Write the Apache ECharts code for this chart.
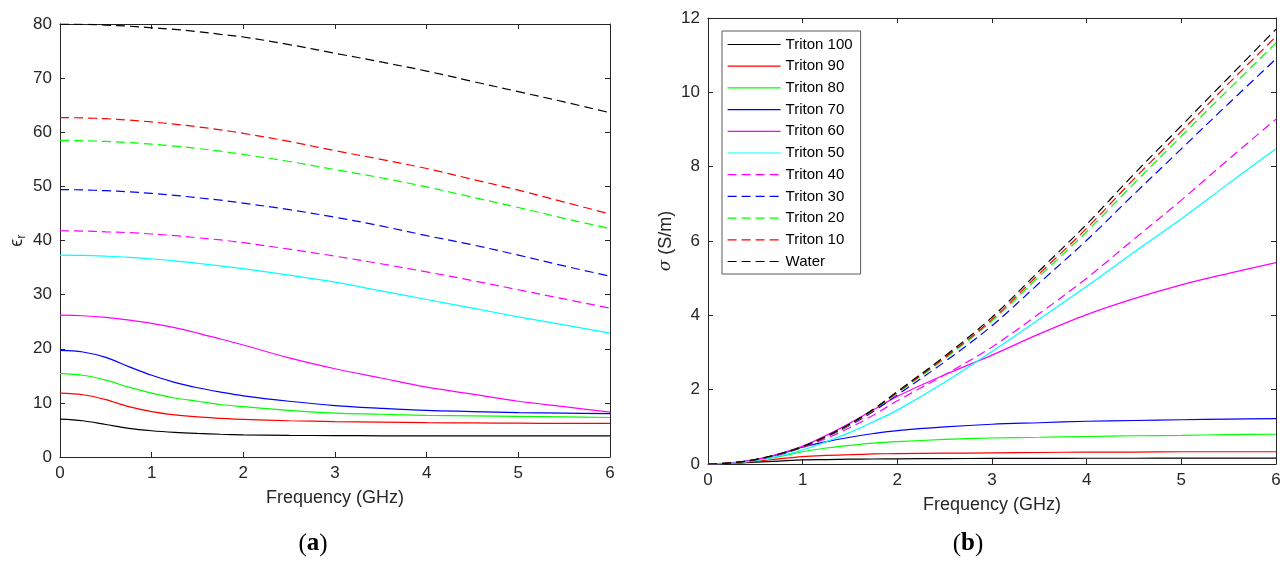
<!DOCTYPE html>
<html>
<head>
<meta charset="utf-8">
<script src="https://cdn.jsdelivr.net/npm/echarts@6/dist/echarts.min.js"></script>
<style>
html,body{margin:0;padding:0;background:#fff;}
#chart{width:1288px;height:565px;}
</style>
</head>
<body>
<div id="chart"></div>
<script>
// ---------- data ----------
const freq = [0, 0.25, 0.5, 0.75, 1, 1.25, 1.5, 1.75, 2, 2.5, 3, 3.5, 4, 4.5, 5, 5.5, 6];
const seriesNames = ['Triton 100','Triton 90','Triton 80','Triton 70','Triton 60','Triton 50','Triton 40','Triton 30','Triton 20','Triton 10','Water'];

// (a) relative permittivity
const eps_T100 = [7.0, 6.7, 6.0, 5.3, 4.85, 4.55, 4.35, 4.2, 4.1, 4.0, 3.95, 3.92, 3.9, 3.9, 3.9, 3.9, 3.9];
const eps_T90  = [11.8, 11.5, 10.6, 9.3, 8.4, 7.8, 7.4, 7.15, 6.95, 6.7, 6.55, 6.45, 6.35, 6.3, 6.25, 6.2, 6.2];
const eps_T80  = [15.4, 15.1, 14.2, 12.9, 11.8, 10.9, 10.3, 9.7, 9.3, 8.6, 8.1, 7.9, 7.7, 7.6, 7.5, 7.4, 7.3];
const eps_T70  = [19.7, 19.4, 18.4, 16.7, 15.1, 13.8, 12.8, 12.0, 11.3, 10.3, 9.5, 9.0, 8.6, 8.4, 8.2, 8.1, 8.0];
const eps_T60  = [26.2, 26.1, 25.8, 25.3, 24.7, 23.9, 22.9, 21.8, 20.7, 18.3, 16.3, 14.6, 12.9, 11.6, 10.3, 9.3, 8.3];
const eps_T50  = [37.3, 37.25, 37.1, 36.9, 36.6, 36.25, 35.8, 35.3, 34.8, 33.6, 32.3, 30.7, 29.1, 27.5, 25.9, 24.4, 22.9];
const eps_T40  = [41.8, 41.75, 41.6, 41.45, 41.2, 40.9, 40.5, 40.1, 39.6, 38.4, 37.1, 35.7, 34.2, 32.6, 30.9, 29.2, 27.5];
const eps_T30  = [49.4, 49.35, 49.2, 49.0, 48.7, 48.35, 47.9, 47.45, 46.9, 45.7, 44.3, 42.7, 40.9, 39.2, 37.3, 35.3, 33.4];
const eps_T20  = [58.5, 58.45, 58.3, 58.1, 57.8, 57.45, 57.0, 56.5, 55.9, 54.6, 53.1, 51.6, 49.9, 48.0, 46.1, 44.1, 42.2];
const eps_T10  = [62.7, 62.65, 62.5, 62.25, 61.9, 61.5, 61.0, 60.45, 59.8, 58.3, 56.6, 55.0, 53.3, 51.3, 49.3, 47.1, 44.9];
const eps_Water= [80.0, 79.95, 79.8, 79.6, 79.3, 79.0, 78.6, 78.1, 77.6, 76.2, 74.6, 73.0, 71.3, 69.4, 67.5, 65.6, 63.6];

// (b) conductivity (S/m)
const sig_T100 = [0, 0.015, 0.05, 0.08, 0.11, 0.12, 0.13, 0.135, 0.14, 0.145, 0.15, 0.15, 0.155, 0.155, 0.16, 0.16, 0.16];
const sig_T90  = [0, 0.02, 0.07, 0.14, 0.20, 0.23, 0.25, 0.27, 0.28, 0.29, 0.30, 0.31, 0.32, 0.32, 0.33, 0.33, 0.33];
const sig_T80  = [0, 0.03, 0.10, 0.20, 0.33, 0.43, 0.50, 0.56, 0.60, 0.66, 0.70, 0.72, 0.74, 0.76, 0.77, 0.79, 0.80];
const sig_T70  = [0, 0.03, 0.12, 0.26, 0.45, 0.60, 0.72, 0.82, 0.90, 1.00, 1.07, 1.11, 1.15, 1.17, 1.19, 1.21, 1.22];
const sig_T60  = [0, 0.03, 0.12, 0.27, 0.48, 0.77, 1.10, 1.46, 1.82, 2.40, 2.93, 3.50, 4.02, 4.45, 4.82, 5.13, 5.42];
const sig_T50  = [0, 0.02, 0.09, 0.21, 0.38, 0.60, 0.85, 1.14, 1.45, 2.20, 3.03, 3.90, 4.78, 5.70, 6.60, 7.55, 8.48];
const sig_T40  = [0, 0.03, 0.11, 0.25, 0.44, 0.69, 0.98, 1.32, 1.70, 2.40, 3.15, 4.05, 5.00, 6.05, 7.10, 8.20, 9.28];
const sig_T30  = [0, 0.03, 0.12, 0.26, 0.46, 0.73, 1.04, 1.42, 1.86, 2.75, 3.72, 4.87, 6.02, 7.26, 8.48, 9.70, 10.9];
const sig_T20  = [0, 0.03, 0.12, 0.27, 0.47, 0.74, 1.06, 1.46, 1.91, 2.83, 3.85, 5.05, 6.25, 7.55, 8.82, 10.08, 11.33];
const sig_T10  = [0, 0.03, 0.12, 0.27, 0.47, 0.74, 1.07, 1.47, 1.93, 2.86, 3.89, 5.12, 6.34, 7.67, 8.95, 10.24, 11.5];
const sig_Water= [0, 0.03, 0.12, 0.27, 0.47, 0.75, 1.08, 1.48, 1.95, 2.90, 3.95, 5.20, 6.45, 7.80, 9.10, 10.40, 11.7];

const epsData = [eps_T100, eps_T90, eps_T80, eps_T70, eps_T60, eps_T50, eps_T40, eps_T30, eps_T20, eps_T10, eps_Water];
const sigData = [sig_T100, sig_T90, sig_T80, sig_T70, sig_T60, sig_T50, sig_T40, sig_T30, sig_T20, sig_T10, sig_Water];

// ---------- styles ----------
const colors = ['#000000','#ff0000','#00ff00','#0000ff','#ff00ff','#00ffff','#ff00ff','#0000ff','#00ff00','#ff0000','#000000'];
const dashed = [false,false,false,false,false,false,true,true,true,true,true];
const FONT = "'Liberation Sans', Arial, Helvetica, sans-serif";
const SERIF = "'Liberation Serif', 'DejaVu Serif', serif";
const AX = '#262626';

function pairs(vals){ return freq.map((f,i)=>[f, vals[i]]); }

function mkX(grid, pos, showLabel, name){
  return {
    type:'value', gridIndex:grid, position:pos, min:0, max:6, interval:1,
    axisLine:{show:true, onZero:false, lineStyle:{color:AX, width:1}},
    axisTick:{show:true, inside:true, length:5, lineStyle:{color:AX, width:1}},
    axisLabel:{show:showLabel, fontFamily:FONT, fontSize:17, color:AX, margin:8},
    splitLine:{show:false},
    name: name || '', nameLocation:'middle', nameGap:32,
    nameTextStyle:{fontFamily:FONT, fontSize:18, color:AX}
  };
}
function mkY(grid, pos, showLabel, max, interval){
  return {
    type:'value', gridIndex:grid, position:pos, min:0, max:max, interval:interval,
    axisLine:{show:true, onZero:false, lineStyle:{color:AX, width:1}},
    axisTick:{show:true, inside:true, length:5, lineStyle:{color:AX, width:1}},
    axisLabel:{show:showLabel, fontFamily:FONT, fontSize:17, color:AX, margin:8},
    splitLine:{show:false}
  };
}

const series = [];
seriesNames.forEach((nm, i) => {
  const ls = {color:colors[i], width:1.2, type: dashed[i] ? [9,5] : 'solid'};
  series.push({type:'line', name:nm, xAxisIndex:0, yAxisIndex:0, data:pairs(epsData[i]),
    symbol:'none', smooth:0.35, color:colors[i], lineStyle:ls, animation:false, z:2+i});
  series.push({type:'line', name:nm, xAxisIndex:2, yAxisIndex:2, data:pairs(sigData[i]),
    symbol:'none', smooth:0.35, color:colors[i], lineStyle:ls, animation:false, z:2+i});
});

const option = {
  backgroundColor:'#ffffff',
  animation:false,
  grid:[
    {left:60, top:24, width:550, height:433},
    {left:708, top:18, width:568, height:446}
  ],
  xAxis:[
    mkX(0,'bottom',true,'Frequency (GHz)'),
    mkX(0,'top',false),
    mkX(1,'bottom',true,'Frequency (GHz)'),
    mkX(1,'top',false)
  ],
  yAxis:[
    mkY(0,'left',true,80,10),
    mkY(0,'right',false,80,10),
    mkY(1,'left',true,12,2),
    mkY(1,'right',false,12,2)
  ],
  legend:{
    show:true, data:seriesNames, orient:'vertical', left:722, top:31,
    backgroundColor:'#ffffff', borderColor:'#5a5a5a', borderWidth:1, borderRadius:0,
    padding:[6,8,5,5], itemWidth:53, itemHeight:14, itemGap:6.7,
    itemStyle:{opacity:0},
    lineStyle:{width:1.2},
    textStyle:{fontFamily:FONT, fontSize:15, color:'#000'},
    selectedMode:false
  },
  graphic:[
    {type:'text', x:17, y:240.5, rotation:Math.PI/2,
      style:{text:'{e|ϵ}{s|r}', x:0, y:0, align:'center', verticalAlign:'middle',
        rich:{e:{fontFamily:FONT, fontSize:18, fill:AX}, s:{fontFamily:FONT, fontSize:13, fill:AX, padding:[9,0,0,0]}}}},
    {type:'text', x:666, y:241, rotation:Math.PI/2,
      style:{text:'{g|σ}{t| (S/m)}', x:0, y:0, align:'center', verticalAlign:'middle',
        rich:{g:{fontFamily:"'DejaVu Serif', serif", fontStyle:'italic', fontSize:17, fill:AX}, t:{fontFamily:FONT, fontSize:18, fill:AX}}}},
    {type:'text', x:313, y:544,
      style:{text:'{p|(}{b|a}{p|)}', align:'center', verticalAlign:'middle',
        rich:{p:{fontFamily:SERIF, fontSize:25, fill:'#000'}, b:{fontFamily:SERIF, fontWeight:'bold', fontSize:25, fill:'#000'}}}},
    {type:'text', x:968, y:544,
      style:{text:'{p|(}{b|b}{p|)}', align:'center', verticalAlign:'middle',
        rich:{p:{fontFamily:SERIF, fontSize:25, fill:'#000'}, b:{fontFamily:SERIF, fontWeight:'bold', fontSize:25, fill:'#000'}}}}
  ],
  series: series
};

const chart = echarts.init(document.getElementById('chart'), null, {renderer:'canvas'});
chart.setOption(option);
</script>
</body>
</html>
